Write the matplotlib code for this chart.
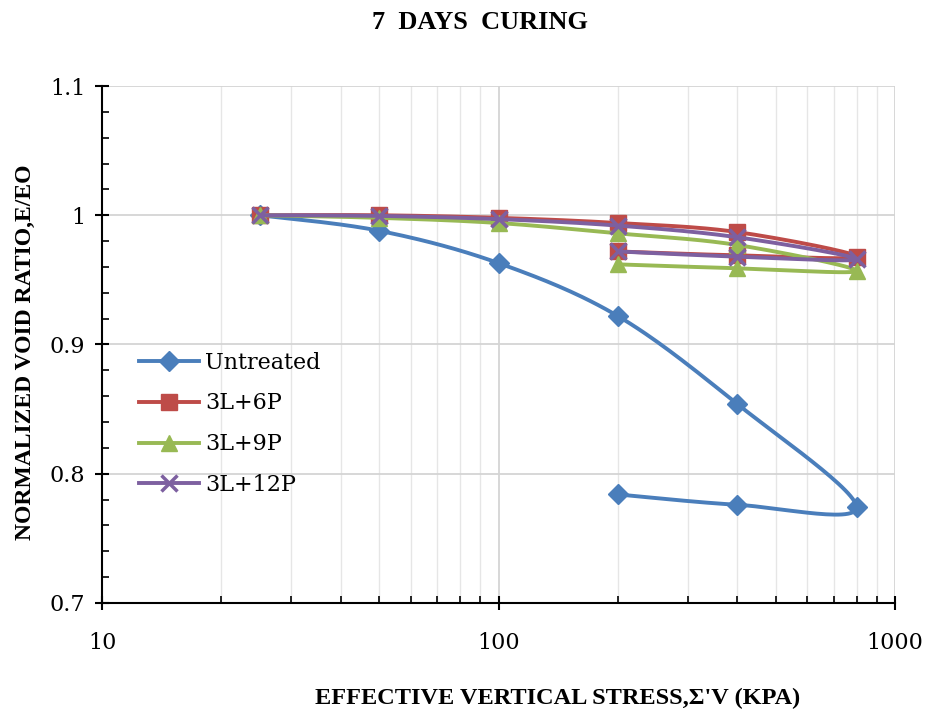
import numpy as np
import matplotlib.pyplot as plt
from matplotlib.ticker import FixedLocator, NullFormatter

# stress path: loading 25 -> 800, then unloading back to 200 kPa
stress = [25, 50, 100, 200, 400, 800, 400, 200]

untreated = [1.000, 0.988, 0.963, 0.922, 0.854, 0.774, 0.776, 0.784]
l3_p6 = [1.000, 1.000, 0.998, 0.994, 0.987, 0.968, 0.969, 0.972]
l3_p9 = [1.000, 0.998, 0.994, 0.986, 0.977, 0.957, 0.959, 0.962]
l3_p12 = [1.000, 0.9995, 0.997, 0.992, 0.983, 0.966, 0.968, 0.972]

labels = ['Untreated', '3L+6P', '3L+9P', '3L+12P']
colors = ['#4A7EBB', '#BE4B48', '#98B954', '#7D60A0']
markers = ['D', 's', '^', 'x']
msizes = [10.5, 12, 12, 12]

# pixel scale used for Excel-like smoothing
PX_DEC = 396.5
PX_Y = 1293.0


def excel_smooth(x, y, n=30):
    """Bezier smoothing similar to Excel 'smoothed line', done in screen space."""
    u = np.log10(np.array(x, dtype=float)) * PX_DEC
    v = np.array(y, dtype=float) * PX_Y
    P = np.column_stack([u, v])
    P = np.vstack([P[0], P, P[-1]])
    out = []
    t = np.linspace(0, 1, n, endpoint=False)[:, None]
    for i in range(1, len(P) - 2):
        p0, p1, p2, p3 = P[i - 1], P[i], P[i + 1], P[i + 2]
        c1 = p1 + (p2 - p0) / 6.0
        c2 = p2 - (p3 - p1) / 6.0
        seg = ((1 - t) ** 3) * p1 + 3 * ((1 - t) ** 2) * t * c1 + 3 * (1 - t) * t ** 2 * c2 + t ** 3 * p2
        out.append(seg)
    out.append(P[-2][None, :])
    out = np.vstack(out)
    return 10 ** (out[:, 0] / PX_DEC), out[:, 1] / PX_Y


fig = plt.figure(figsize=(9.29, 7.18), dpi=100)
ax = fig.add_axes([0.1098, 0.1602, 0.8536, 0.72])

n = 30
for data, lab, c, m, ms in zip([untreated, l3_p6, l3_p9, l3_p12], labels, colors, markers, msizes):
    xs, ys = excel_smooth(stress, data, n)
    idx = list(range(0, len(xs), n))
    ax.plot(xs, ys, color=c, lw=2.8, marker=m, ms=ms, markevery=idx,
            mew=2.5 if m == 'x' else 1, mec=c, mfc=c, label=lab)

ax.set_xscale('log')
ax.set_xlim(10, 1000)
ax.set_ylim(0.7, 1.1)
ax.set_yticks([0.7, 0.8, 0.9, 1.0, 1.1])
ax.set_yticklabels(['0.7', '0.8', '0.9', '1', '1.1'])
ax.set_xticks([10, 100, 1000])
ax.set_xticklabels(['10', '100', '1000'])
ax.xaxis.set_minor_locator(FixedLocator([k * 10 ** d for d in (1, 2) for k in range(2, 10)]))
ax.xaxis.set_minor_formatter(NullFormatter())
ax.yaxis.set_minor_locator(FixedLocator(np.arange(0.7, 1.1, 0.02)))

ax.grid(True, which='major', color='#d4d4d4', lw=1.3)
ax.grid(True, which='minor', axis='x', color='#e6e6e6', lw=1.0)
ax.set_axisbelow(True)
for s in ['top', 'right']:
    ax.spines[s].set_visible(False)
for s in ['left', 'bottom']:
    ax.spines[s].set_linewidth(1.5)
ax.tick_params(which='major', direction='inout', length=10, width=1.5, labelsize=16)
ax.tick_params(axis='x', which='major', pad=16)
ax.tick_params(axis='y', which='major', pad=7)
ax.tick_params(which='minor', direction='in', length=5, width=1.2)
for lab in ax.get_xticklabels() + ax.get_yticklabels():
    lab.set_fontfamily('DejaVu Serif')

ax.set_xlabel("EFFECTIVE VERTICAL STRESS,Σ'V (KPA)", fontsize=17.5, fontweight='bold',
              family='Liberation Serif')
ax.xaxis.set_label_coords(0.575, -0.165)
ax.set_ylabel('NORMALIZED VOID RATIO,E/EO', fontsize=17, fontweight='bold',
              family='Liberation Serif')
ax.yaxis.set_label_coords(-0.083, 0.485)
fig.suptitle('7  DAYS  CURING', fontsize=19, fontweight='bold', family='Liberation Serif',
             x=0.517, y=0.985)

leg = ax.legend(loc='upper left', bbox_to_anchor=(0.022, 0.525), frameon=False,
                prop={'family': 'DejaVu Serif', 'size': 16}, handlelength=2.7,
                labelspacing=0.85, handletextpad=0.25)

fig.savefig('out.png', dpi=100)
